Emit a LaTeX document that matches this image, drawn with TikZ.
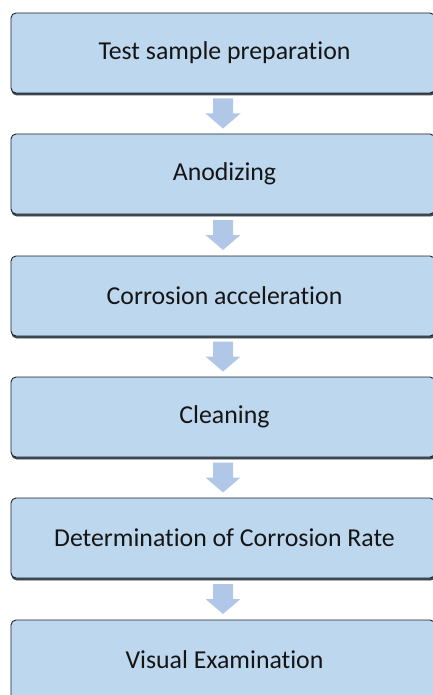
\documentclass[tikz,border=0pt]{standalone}
\usepackage{fontspec}
\setmainfont[RawFeature=-liga]{Carlito}
\usetikzlibrary{calc}
\definecolor{boxfill}{HTML}{BDD7EE}
\definecolor{boxline}{HTML}{1E2428}
\definecolor{boxshadow}{HTML}{3E4852}
\definecolor{arrowfill}{HTML}{B0C7E8}
\definecolor{txt}{HTML}{151515}
\tikzset{
  stepbox/.style={rectangle, rounded corners=5bp, minimum width=424bp, minimum height=80bp,
    fill=boxfill, draw=boxline, line width=0.9bp, inner sep=0pt, text=txt,
    font=\fontsize{25.8bp}{30bp}\selectfont,
    preaction={fill=boxshadow, draw=boxshadow, transform canvas={xshift=0.8bp, yshift=-2bp}}},
  flowarrow/.style={fill=arrowfill, draw=none}
}
\newcommand{\blockarrow}[2]{%
  \coordinate (m#1) at ($(#1.south)!0.5!(#2.north)$);
  \fill[flowarrow] ($(m#1)+(-10bp,15bp)$) -- ($(m#1)+(10bp,15bp)$) -- ($(m#1)+(10bp,0bp)$)
    -- ($(m#1)+(17.5bp,0bp)$) -- ($(m#1)+(0bp,-15bp)$) -- ($(m#1)+(-17.5bp,0bp)$)
    -- ($(m#1)+(-10bp,0bp)$) -- cycle;}
\begin{document}
\begin{tikzpicture}[x=1bp,y=-1bp]
\useasboundingbox (0,0) rectangle (433,695);
\node[stepbox] (b1) at (223,53) {\hspace*{3bp}Test sample preparation};
\node[stepbox] (b2) at (223,174) {\hspace*{3bp}Anodizing};
\node[stepbox] (b3) at (223,296) {\hspace*{3bp}Corrosion acceleration};
\node[stepbox] (b4) at (223,417) {\hspace*{3bp}Cleaning};
\node[stepbox] (b5) at (223,538) {\hspace*{3bp}Determination of Corrosion Rate};
\node[stepbox] (b6) at (223,660) {\hspace*{3bp}Visual Examination};
\blockarrow{b1}{b2}
\blockarrow{b2}{b3}
\blockarrow{b3}{b4}
\blockarrow{b4}{b5}
\blockarrow{b5}{b6}
\end{tikzpicture}
\end{document}
